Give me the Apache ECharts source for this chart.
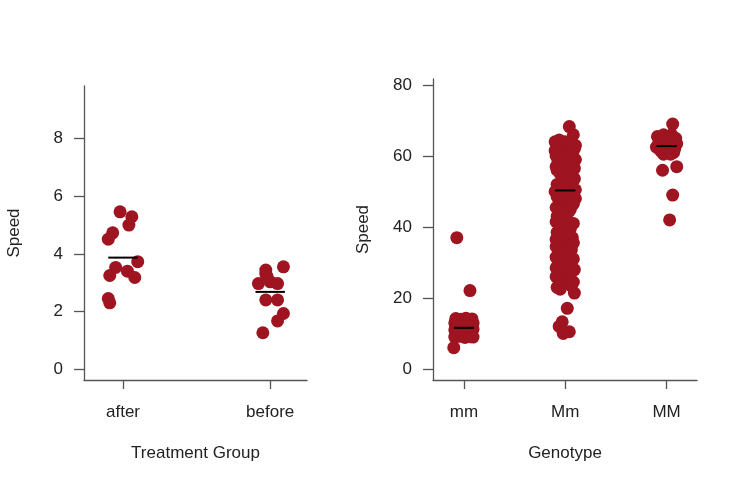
<!DOCTYPE html>
<html>
<head>
<meta charset="utf-8">
<script src="https://cdn.jsdelivr.net/npm/echarts@6/dist/echarts.min.js"></script>
<style>html,body{margin:0;padding:0;background:#fff;}#c{width:741px;height:484px;}</style>
</head>
<body>
<div id="c"></div>
<script>
// ---- data ----
var leftCategories = ['after', 'before'];
var rightCategories = ['mm', 'Mm', 'MM'];
var leftTicks = [0, 2, 4, 6, 8];
var rightTicks = [0, 20, 40, 60, 80];

var afterSpeed  = [5.46, 5.29, 5.00, 4.73, 4.51, 3.73, 3.53, 3.40, 3.25, 3.18, 2.45, 2.30];
var afterJitter = [-0.02, 0.06, 0.04, -0.07, -0.10, 0.10, -0.05, 0.03, -0.09, 0.08, -0.10, -0.09];
var beforeSpeed  = [3.55, 3.44, 3.30, 3.20, 3.03, 2.97, 2.97, 2.40, 2.40, 1.93, 1.67, 1.26];
var beforeJitter = [0.09, -0.03, -0.03, -0.02, 0.00, -0.08, 0.05, -0.03, 0.05, 0.09, 0.05, -0.05];
var leftMeans = [3.87, 2.68];

var mmSpeed  = [14.2, 14.0, 14.3, 14.1, 13.0, 13.2, 12.8, 13.1, 12.9, 12.0, 11.8, 12.1, 11.9, 11.0, 10.9, 11.1, 10.8, 11.2, 10.0, 9.8, 10.1, 9.9, 9.0, 9.2, 8.9, 9.1, 9.0, 37.0, 22.1, 6.0];
var mmJitter = [-0.08, -0.03, 0.02, 0.08, -0.09, -0.04, 0.01, 0.05, 0.09, -0.08, -0.02, 0.03, 0.08, -0.09, -0.05, 0.00, 0.05, 0.09, -0.08, -0.03, 0.02, 0.07, -0.09, -0.04, 0.01, 0.06, 0.09, -0.07, 0.06, -0.10];

var MmSpeed = [68.3, 66.0, 64.5, 64.0, 63.5, 64.0, 63.0, 63.5, 61.5, 57.0,
  62.0, 62.5, 61.8, 62.0, 61.0, 60.5, 60.8, 60.0, 59.5, 59.8, 59.0, 58.5, 58.0, 58.2, 57.5, 57.0, 56.5, 56.0, 55.5, 55.8, 55.0, 54.5, 54.0, 53.0, 52.5, 53.5, 52.0, 51.0,
  51.5, 50.5, 50.0, 49.5, 49.0, 48.0, 47.5, 47.0, 48.5, 46.5,
  46.0, 45.0, 44.0, 43.0, 42.0, 41.0, 40.5, 39.5, 38.5, 38.0, 37.0, 36.0, 35.0, 34.5, 33.5, 32.0, 31.0, 30.5, 29.5, 28.5, 28.0, 27.0, 26.5, 25.5, 25.0, 24.0, 23.5, 22.5,
  45.5, 44.5, 42.5, 41.5, 40.0, 39.0, 37.5, 36.5, 35.5, 33.0, 32.5, 31.5, 30.0, 29.0, 27.5, 26.0, 24.5, 23.0,
  21.4, 17.1, 13.3, 12.0, 10.5, 10.0];
var MmJitter = [0.04, 0.08, -0.06, 0.00, 0.06, -0.10, 0.10, -0.04, -0.10, -0.09,
  -0.08, -0.02, 0.04, 0.09, -0.05, 0.01, 0.07, -0.09, -0.03, 0.05, 0.10, -0.07, 0.00, 0.06, -0.04, 0.03, 0.09, -0.08, -0.01, 0.05, -0.05, 0.02, 0.08, -0.03, 0.04, 0.09, -0.08, 0.05,
  -0.07, 0.10, -0.10, -0.02, 0.06, 0.10, -0.05, 0.03, -0.08, 0.08,
  -0.06, 0.05, -0.01, -0.08, 0.02, 0.08, -0.04, 0.05, -0.08, 0.00, 0.07, -0.05, 0.03, -0.09, 0.06, -0.03, 0.08, -0.07, 0.02, -0.09, 0.09, -0.04, 0.04, -0.07, 0.01, -0.02, 0.06, -0.05,
  -0.09, 0.04, -0.05, -0.09, 0.01, -0.06, 0.04, -0.09, 0.08, -0.06, 0.03, -0.09, 0.05, -0.04, 0.07, -0.09, 0.08, -0.08,
  0.09, 0.02, -0.03, -0.06, 0.04, -0.02];

var MMSpeed  = [69.0, 66.0, 66.0, 65.5, 65.0, 65.0, 64.5, 64.0, 63.5, 63.5, 63.0, 63.0, 62.5, 62.0, 62.0, 61.5, 61.0, 61.0, 60.5, 60.5, 57.0, 56.0, 49.0, 42.0];
var MMJitter = [0.06, -0.03, 0.05, -0.09, 0.00, 0.09, -0.05, 0.04, -0.08, 0.10, -0.02, 0.06, -0.10, 0.02, 0.08, -0.06, 0.00, 0.07, -0.03, 0.04, 0.10, -0.04, 0.06, 0.03];
var rightMeans = [11.6, 50.3, 62.8];

// ---- build ----
function pts(cat, speed, jit) {
  return speed.map(function (v, i) { return [cat + jit[i], v]; });
}
var pointColor = '#9e1420';
var axisColor = '#555';
var textColor = '#222';
var font = 'Liberation Sans, Arial, Helvetica, sans-serif';
var fs = 17;

function meanSeries(means, xi, yi) {
  return {
    type: 'custom', xAxisIndex: xi, yAxisIndex: yi, z: 10,
    data: means.map(function (m, i) { return [i + 1, m]; }),
    renderItem: function (params, api) {
      var a = api.coord([api.value(0) - 0.1, api.value(1)]);
      var b = api.coord([api.value(0) + 0.1, api.value(1)]);
      return { type: 'line', shape: { x1: a[0], y1: a[1], x2: b[0], y2: b[1] }, style: { stroke: '#000', lineWidth: 2 } };
    }
  };
}
function scatter(data, xi, yi) {
  return { type: 'scatter', xAxisIndex: xi, yAxisIndex: yi, data: data, symbolSize: 13,
    itemStyle: { color: pointColor, opacity: 1 }, emphasis: { disabled: true } };
}
function xAxis(gi, min, max, cats, name) {
  var vals = cats.map(function (c, i) { return i + 1; });
  return {
    type: 'value', gridIndex: gi, min: min, max: max,
    name: name, nameLocation: 'middle', nameGap: 65,
    nameTextStyle: { color: textColor, fontSize: fs, fontFamily: font },
    splitLine: { show: false },
    axisLine: { show: true, onZero: false, lineStyle: { color: axisColor, width: 1.3 } },
    axisTick: { show: true, length: 9, customValues: vals, lineStyle: { color: axisColor, width: 1.3 } },
    axisLabel: { customValues: vals, margin: 24, color: textColor, fontSize: fs, fontFamily: font,
      formatter: function (v) { return cats[Math.round(v) - 1]; } }
  };
}
function yAxis(gi, min, max, ticks) {
  return {
    type: 'value', gridIndex: gi, min: min, max: max,
    name: 'Speed', nameLocation: 'middle', nameGap: 61,
    nameTextStyle: { color: textColor, fontSize: fs, fontFamily: font },
    splitLine: { show: false },
    axisLine: { show: true, onZero: false, lineStyle: { color: axisColor, width: 1.3 } },
    axisTick: { show: true, length: 10, customValues: ticks, lineStyle: { color: axisColor, width: 1.3 } },
    axisLabel: { customValues: ticks, margin: 21, color: textColor, fontSize: fs, fontFamily: font }
  };
}

var chart = echarts.init(document.getElementById('c'), null, { renderer: 'canvas' });
chart.setOption({
  animation: false,
  backgroundColor: '#fff',
  grid: [
    { left: 84, top: 86, width: 223, height: 294 },
    { left: 433, top: 79, width: 264, height: 301 }
  ],
  xAxis: [
    xAxis(0, 0.735, 2.25, leftCategories, 'Treatment Group'),
    xAxis(1, 0.695, 3.3, rightCategories, 'Genotype')
  ],
  yAxis: [
    yAxis(0, -0.38, 9.83, leftTicks),
    yAxis(1, -3.1, 81.7, rightTicks)
  ],
  series: [
    scatter(pts(1, afterSpeed, afterJitter), 0, 0),
    scatter(pts(2, beforeSpeed, beforeJitter), 0, 0),
    meanSeries(leftMeans, 0, 0),
    scatter(pts(1, mmSpeed, mmJitter), 1, 1),
    scatter(pts(2, MmSpeed, MmJitter), 1, 1),
    scatter(pts(3, MMSpeed, MMJitter), 1, 1),
    meanSeries(rightMeans, 1, 1)
  ]
});
</script>
</body>
</html>
